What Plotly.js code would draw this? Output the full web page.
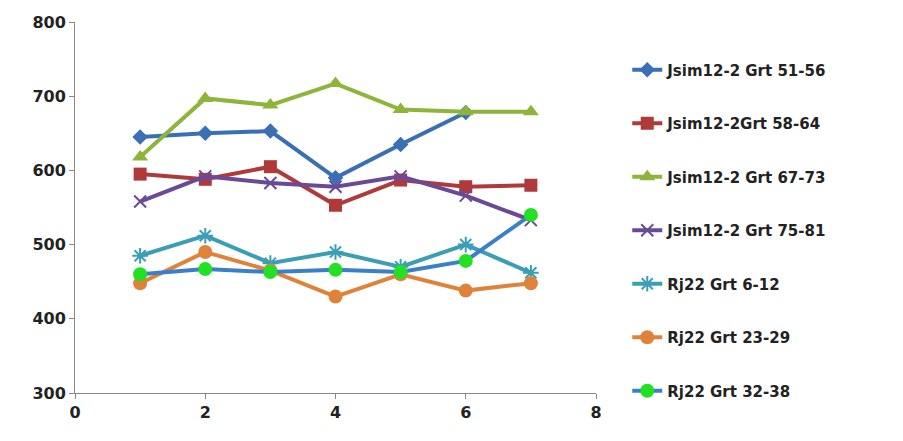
<!DOCTYPE html>
<html><head><meta charset="utf-8">
<script src="https://cdn.plot.ly/plotly-3.0.1.min.js"></script>
<style>body{margin:0;background:#fff}#chart{width:903px;height:441px}</style>
</head><body><div id="chart"></div>
<script>
var xs = [1, 2, 3, 4, 5, 6, 7];
var names = ["Jsim12-2 Grt 51-56", "Jsim12-2Grt 58-64", "Jsim12-2 Grt 67-73", "Jsim12-2 Grt 75-81",
             "Rj22 Grt 6-12", "Rj22 Grt 23-29", "Rj22 Grt 32-38"];
var s1 = [645, 650, 653, 590, 635, 678, null];
var s2 = [595, 588, 605, 553, 587, 578, 580];
var s3 = [618, 697, 688, 717, 682, 679, 679];
var s4 = [558, 592, 583, 578, 592, 566, 533];
var s5 = [485, 512, 475, 490, 470, 500, 462];
var s6 = [448, 490, 465, 430, 460, 438, 448];
var s7 = [460, 467, 463, 466, 463, 478, 540];

var series = [s1, s2, s3, s4, s5, s6, s7];
var lineColors = ["#3a6fb5", "#b03a3a", "#8fb43a", "#6a4a96", "#3a9fb5", "#e0833a", "#3a7fc9"];
var markerColors = ["#3a6fb5", "#b03a3a", "#8fb43a", "#6a4a96", "#3a9fb5", "#e0833a", "#22e022"];
var symbols = ["diamond", "square", "triangle-up", "x-thin-open", "asterisk-open", "circle", "circle"];
var sizes = [12, 13, 14, 12, 13, 14, 14];

var traces = series.map(function (y, i) {
  return {
    x: xs, y: y, name: names[i], type: "scatter", mode: "lines+markers",
    legendgroup: "g" + i,
    line: {color: lineColors[i], width: 4},
    marker: {symbol: symbols[i], size: sizes[i], color: markerColors[i],
             line: {color: markerColors[i], width: (i == 3 || i == 4) ? 2 : 0}}
  };
});

var layout = {
  width: 903, height: 441,
  margin: {l: 75, r: 307, t: 22, b: 48},
  paper_bgcolor: "#fff", plot_bgcolor: "#fff",
  font: {family: "DejaVu Sans", size: 16, color: "#222"},
  xaxis: {range: [0, 8], dtick: 2, showgrid: false, zeroline: false, showline: true,
          linecolor: "#888", linewidth: 1, ticks: "outside", ticklen: 5, tickcolor: "#888",
          tickfont: {size: 16, weight: "bold"}},
  yaxis: {range: [300, 800], dtick: 100, showgrid: false, zeroline: false, showline: true,
          linecolor: "#888", linewidth: 1, ticks: "outside", ticklen: 5, tickcolor: "#888",
          tickfont: {size: 16, weight: "bold"}},
  legend: {x: 1.06, y: 0.915, yanchor: "top", tracegroupgap: 31, traceorder: "grouped",
           font: {size: 15, color: "#222", weight: "bold"}, bgcolor: "rgba(0,0,0,0)"},
  showlegend: true
};

Plotly.newPlot("chart", traces, layout, {displayModeBar: false});
</script>
</body></html>
